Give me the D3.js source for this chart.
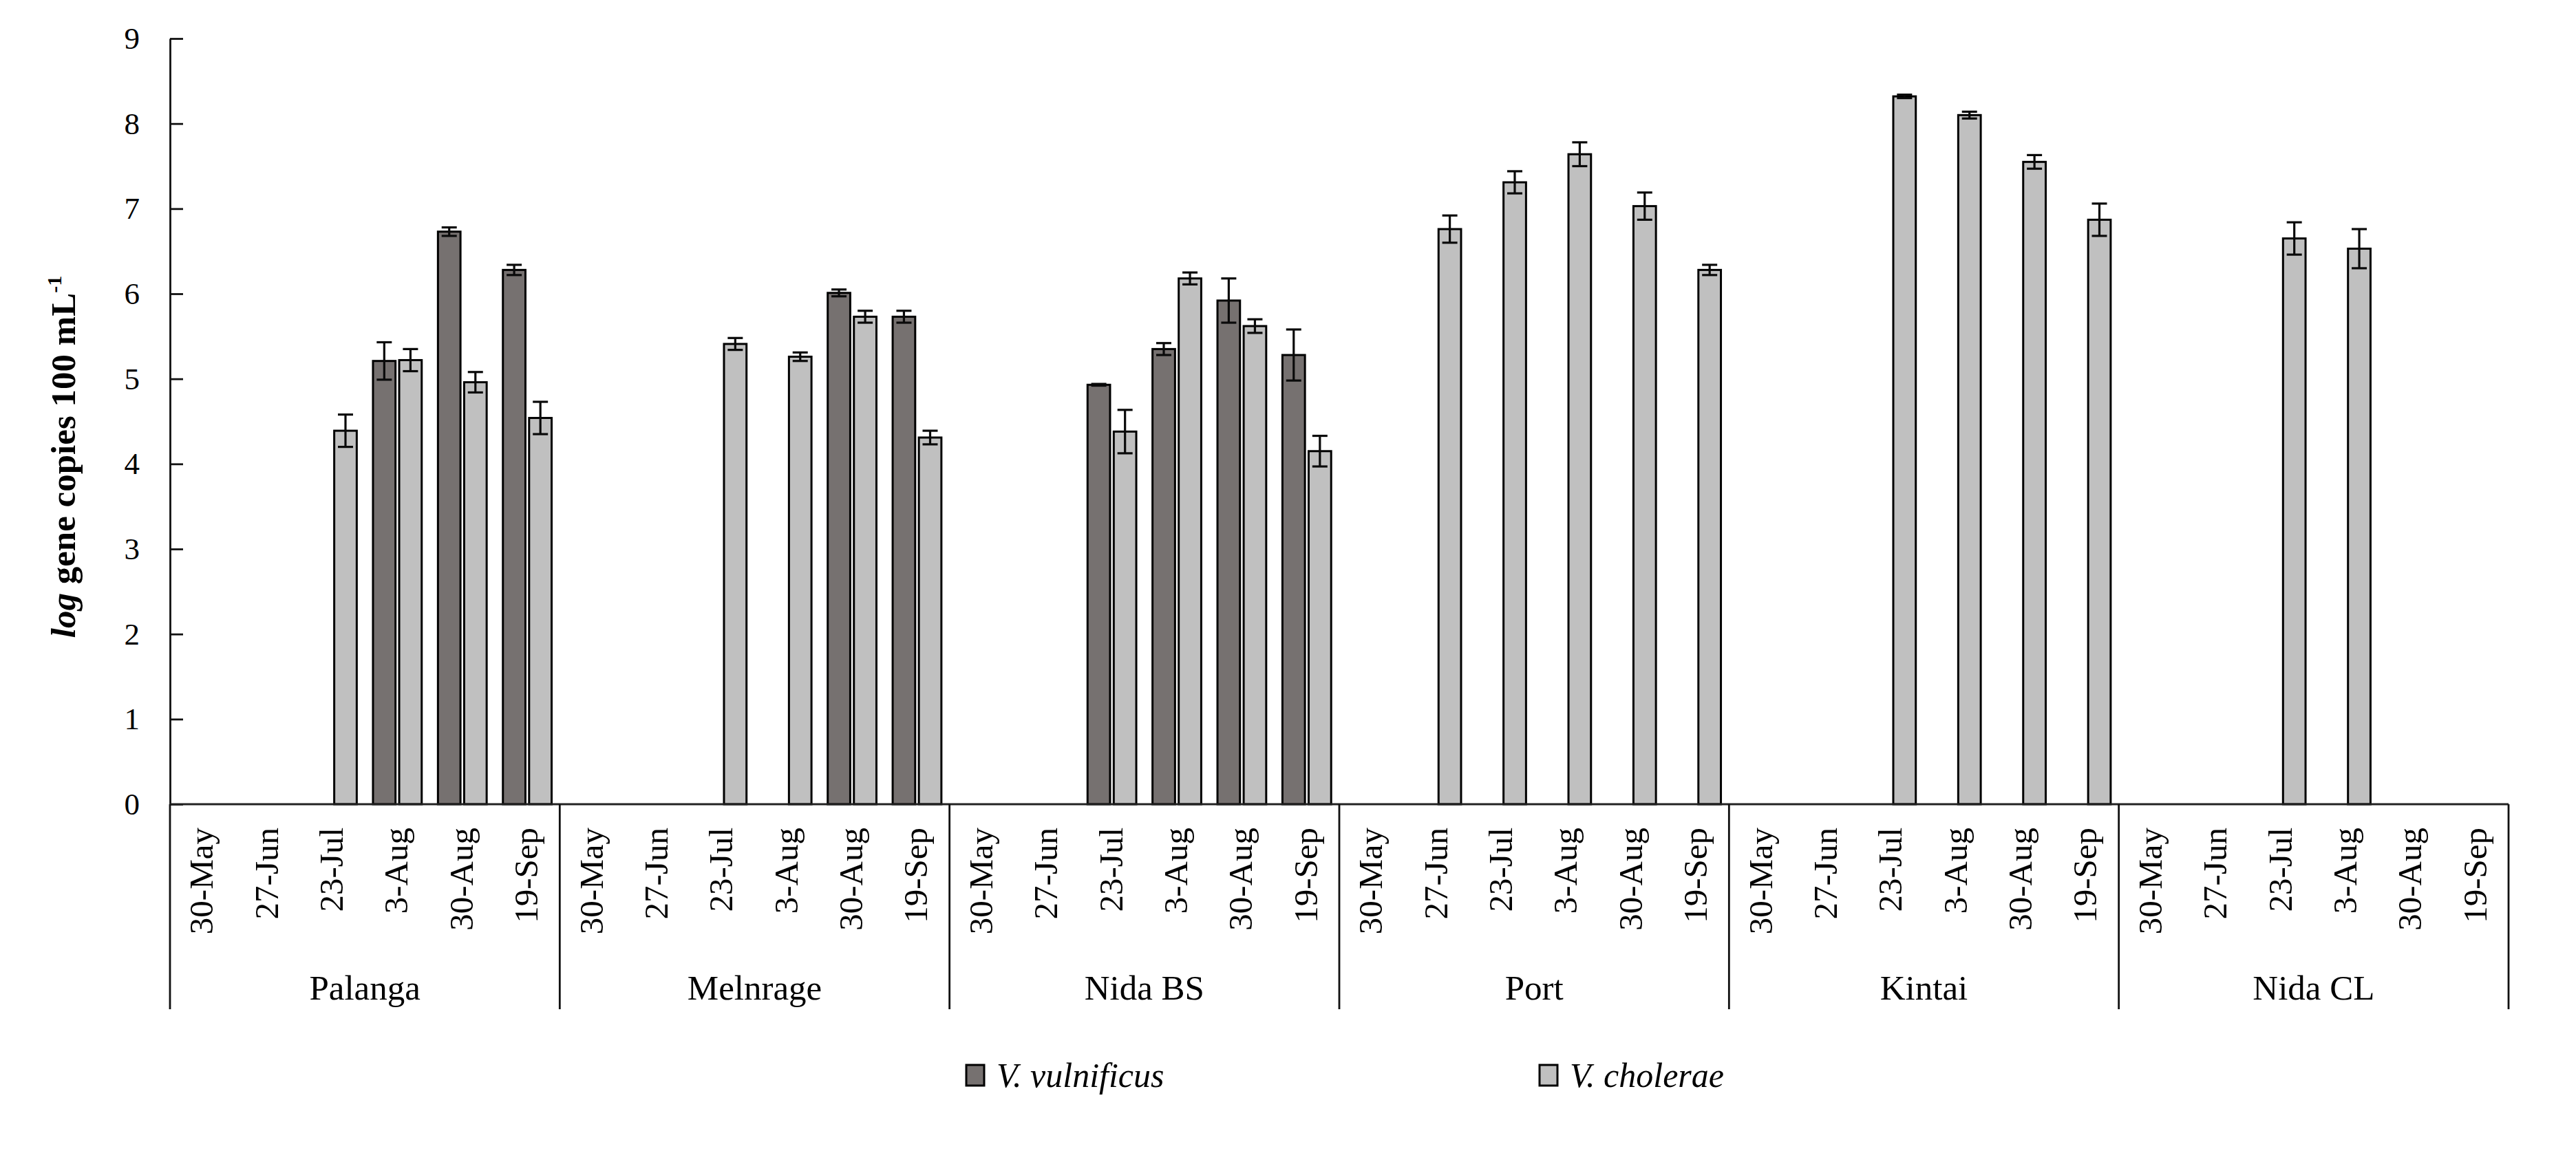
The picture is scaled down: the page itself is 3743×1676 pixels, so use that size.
<!DOCTYPE html>
<html>
<head>
<meta charset="utf-8">
<script src="https://cdn.jsdelivr.net/npm/d3@7"></script>
<style>
  body { margin: 0; background: #fff; }
  text { font-family: 'Liberation Serif', 'Times New Roman', serif; fill: #000; }
</style>
</head>
<body>
<svg id="chart" width="3743" height="1676"></svg>
<script>
const sites = ['Palanga', 'Melnrage', 'Nida BS', 'Port', 'Kintai', 'Nida CL']
const dates = ['30-May', '27-Jun', '23-Jul', '3-Aug', '30-Aug', '19-Sep']
const seriesNames = ['V. vulnificus', 'V. cholerae']
const yTicks = [0, 1, 2, 3, 4, 5, 6, 7, 8, 9]

// one row per site, one value per date (0 = not detected)
const vulnificus = [
  [0, 0, 0, 5.21, 6.73, 6.28],
  [0, 0, 0, 0, 6.01, 5.73],
  [0, 0, 4.93, 5.35, 5.92, 5.28],
  [0, 0, 0, 0, 0, 0],
  [0, 0, 0, 0, 0, 0],
  [0, 0, 0, 0, 0, 0]
]
const vulnificusErr = [
  [0, 0, 0, 0.22, 0.05, 0.06],
  [0, 0, 0, 0, 0.04, 0.07],
  [0, 0, 0.01, 0.07, 0.26, 0.30],
  [0, 0, 0, 0, 0, 0],
  [0, 0, 0, 0, 0, 0],
  [0, 0, 0, 0, 0, 0]
]
const cholerae = [
  [0, 0, 4.39, 5.22, 4.96, 4.54],
  [0, 0, 5.41, 5.26, 5.73, 4.31],
  [0, 0, 4.38, 6.18, 5.62, 4.15],
  [0, 6.76, 7.31, 7.64, 7.03, 6.28],
  [0, 0, 8.32, 8.10, 7.55, 6.87],
  [0, 0, 6.65, 6.53, 0, 0]
]
const choleraeErr = [
  [0, 0, 0.19, 0.13, 0.12, 0.19],
  [0, 0, 0.07, 0.05, 0.07, 0.08],
  [0, 0, 0.255, 0.07, 0.08, 0.18],
  [0, 0.16, 0.13, 0.14, 0.16, 0.06],
  [0, 0, 0.02, 0.04, 0.08, 0.19],
  [0, 0, 0.19, 0.23, 0, 0]
]
const colors = ['#767170', '#c0c0c0']

const plotLeft = 247
const plotRight = 3645
const plotTop = 56
const plotBottom = 1169
const sepBottom = 1467
const capWidth = 22

const svg = d3.select('#chart')

const x0 = d3.scaleBand().domain(sites).range([plotLeft, plotRight])
const x1 = d3.scaleBand().domain(dates).range([0, x0.bandwidth()])
const x2 = d3.scaleBand()
  .domain(seriesNames)
  .range([x1.bandwidth() * 0.125, x1.bandwidth() * 0.875])
  .paddingInner(0.14)
const y = d3.scaleLinear().domain([0, 9]).range([plotBottom, plotTop])

// flatten to bar records
const bars = []
sites.forEach((site, si) => {
  dates.forEach((date, di) => {
    bars.push({ site, date, series: seriesNames[0], v: vulnificus[si][di], e: vulnificusErr[si][di], c: 0 })
    bars.push({ site, date, series: seriesNames[1], v: cholerae[si][di], e: choleraeErr[si][di], c: 1 })
  })
})
const shown = bars.filter(d => d.v > 0)
const barX = d => x0(d.site) + x1(d.date) + x2(d.series)

svg.append('g')
  .selectAll('rect')
  .data(shown)
  .join('rect')
    .attr('x', barX)
    .attr('y', d => y(d.v))
    .attr('width', x2.bandwidth())
    .attr('height', d => plotBottom - y(d.v))
    .attr('fill', d => colors[d.c])
    .attr('stroke', '#000')
    .attr('stroke-width', 3)

// error bars
const err = svg.append('g')
  .attr('stroke', '#0a0a0a')
  .attr('stroke-width', 3.2)
  .selectAll('g')
  .data(shown.filter(d => d.e > 0))
  .join('g')
    .attr('transform', d => `translate(${barX(d) + x2.bandwidth() / 2},0)`)
err.append('line')
  .attr('y1', d => y(d.v - d.e))
  .attr('y2', d => y(d.v + d.e))
err.append('line')
  .attr('x1', -capWidth / 2).attr('x2', capWidth / 2)
  .attr('y1', d => y(d.v + d.e)).attr('y2', d => y(d.v + d.e))
err.append('line')
  .attr('x1', -capWidth / 2).attr('x2', capWidth / 2)
  .attr('y1', d => y(d.v - d.e)).attr('y2', d => y(d.v - d.e))

// y axis with inward ticks
const yAxis = svg.append('g')
  .attr('transform', `translate(${plotLeft},0)`)
  .call(d3.axisLeft(y).tickValues(yTicks).tickSizeInner(-19).tickSizeOuter(0).tickPadding(44))
yAxis.selectAll('path, line').attr('stroke', '#111').attr('stroke-width', 2.8)
yAxis.selectAll('text')
  .attr('font-family', "'Liberation Serif', serif")
  .attr('font-size', 45)
  .attr('fill', '#000')

// category axis line
svg.append('line')
  .attr('x1', plotLeft).attr('x2', plotRight)
  .attr('y1', plotBottom).attr('y2', plotBottom)
  .attr('stroke', '#222').attr('stroke-width', 3.2)

// group separators
svg.append('g')
  .selectAll('line')
  .data(sites.map(s => x0(s)).concat([plotRight]))
  .join('line')
    .attr('x1', d => d).attr('x2', d => d)
    .attr('y1', plotBottom).attr('y2', sepBottom)
    .attr('stroke', '#111').attr('stroke-width', 2.8)

// date labels
const dateLabels = []
sites.forEach(site => dates.forEach(date => dateLabels.push({ site, date })))
svg.append('g')
  .selectAll('text')
  .data(dateLabels)
  .join('text')
    .attr('transform', d => `translate(${x0(d.site) + x1(d.date) + x1.bandwidth() / 2 + 15},${plotBottom + 34}) rotate(-90)`)
    .attr('text-anchor', 'end')
    .attr('font-size', 49)
    .text(d => d.date)

// site labels
svg.append('g')
  .selectAll('text')
  .data(sites)
  .join('text')
    .attr('x', d => x0(d) + x0.bandwidth() / 2)
    .attr('y', 1453)
    .attr('text-anchor', 'middle')
    .attr('font-size', 51)
    .text(d => d)

// y label
const yLabel = svg.append('text')
  .attr('transform', 'translate(109,664) rotate(-90)')
  .attr('text-anchor', 'middle')
  .attr('font-size', 51)
  .attr('font-weight', 'bold')
yLabel.append('tspan').attr('font-style', 'italic').text('log')
yLabel.append('tspan').text(' gene copies 100 mL')
yLabel.append('tspan').attr('font-size', 30).attr('dy', -20).text('-1')

// legend
const legendX = [1404, 2237]
const legend = svg.append('g')
  .selectAll('g')
  .data(seriesNames)
  .join('g')
    .attr('transform', (d, i) => `translate(${legendX[i]},1548)`)
legend.append('rect')
  .attr('width', 26).attr('height', 30)
  .attr('fill', (d, i) => colors[i])
  .attr('stroke', '#000').attr('stroke-width', 3)
legend.append('text')
  .attr('x', 44).attr('y', 32)
  .attr('font-size', 50)
  .attr('font-style', 'italic')
  .text(d => d)
</script>
</body>
</html>
